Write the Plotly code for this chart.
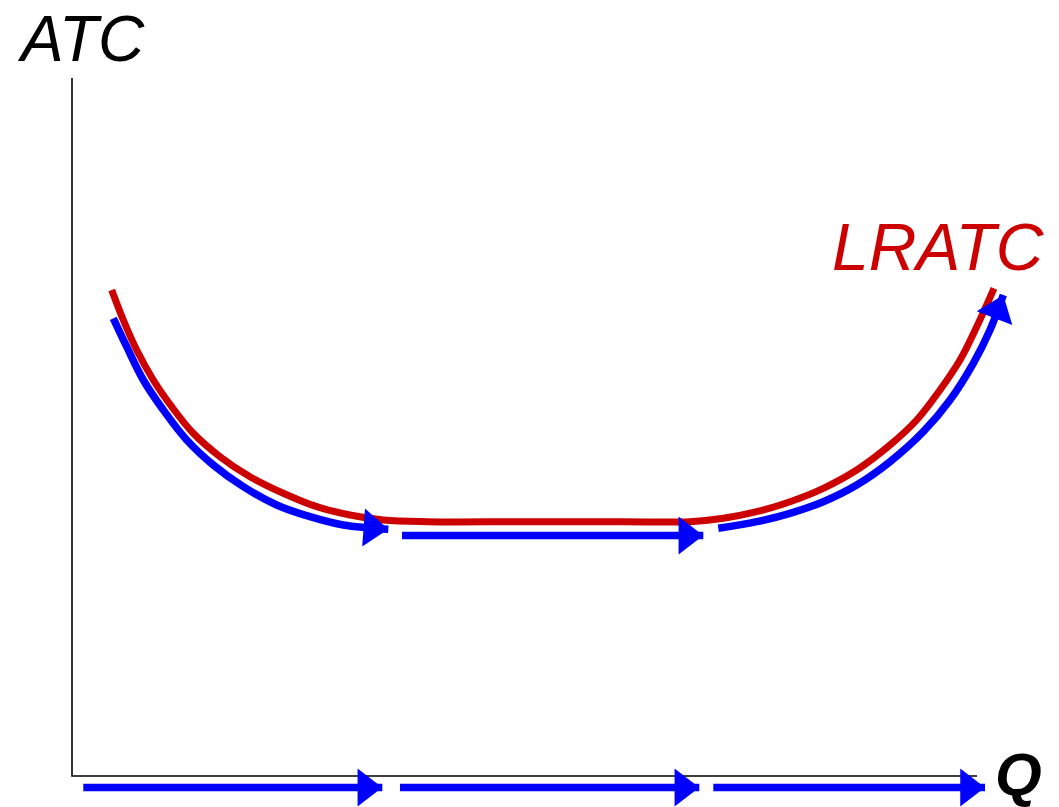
import plotly.graph_objects as go

# units: Q and ATC measured from the axis corner (1 unit = 10 px)
axis_q = [0, 0, 90.5]
axis_atc = [69.8, 0, 0]

# long-run average total cost curve
lratc_q = [3.97, 5.13, 6.47, 8.13, 9.97, 12.13, 14.8, 17.8, 21.13, 24.47, 27.8, 31.13,
           35.47, 45.0, 55.0, 61.8, 65.13, 68.47, 71.8, 75.13, 78.47, 81.8, 84.47,
           86.8, 88.8, 90.47, 92.2]
lratc_atc = [48.6, 45.6, 42.6, 39.6, 36.93, 34.27, 31.93, 29.93, 28.27, 26.93, 26.1, 25.6,
             25.43, 25.43, 25.43, 25.43, 25.77, 26.43, 27.43, 28.77, 30.6, 33.1, 35.6,
             38.6, 41.6, 44.93, 48.77]

# blue arrows following the curve (economies, constant returns, diseconomies)
econ_q = [4.13, 5.47, 7.13, 9.13, 11.47, 14.13, 17.13, 20.47, 23.8, 27.13, 29.47, 31.63]
econ_atc = [45.77, 42.93, 39.6, 36.6, 33.6, 31.1, 28.93, 27.1, 25.93, 25.1, 24.83, 24.67]
const_q = [33.0, 63.13]
const_atc = [24.05, 24.05]
disecon_q = [64.63, 68.47, 71.8, 75.13, 78.47, 81.8, 85.13, 87.8, 90.13, 91.8, 93.13]
disecon_atc = [24.77, 25.43, 26.27, 27.43, 29.1, 31.43, 34.43, 37.6, 41.27, 44.6, 48.1]

# arrows along the quantity axis
q_arrows = [(1.13, 31.03), (32.8, 62.73), (64.13, 91.3)]
q_arrow_atc = -1.15

RED = "#cc0000"
BLUE = "#0000ff"


def arrow_trace(xs, ys):
    n = len(xs)
    return go.Scatter(
        x=xs, y=ys, mode="lines+markers",
        line=dict(color=BLUE, width=7.5, shape="spline", backoff=12),
        marker=dict(symbol="triangle-up", angleref="previous", standoff=16.5,
                    size=[0] * (n - 1) + [33], color=BLUE, opacity=1,
                    line=dict(width=0)),
        hoverinfo="skip", showlegend=False,
    )


fig = go.Figure()
fig.add_trace(go.Scatter(x=axis_q, y=axis_atc, mode="lines",
                         line=dict(color="black", width=1.6),
                         hoverinfo="skip", showlegend=False))
fig.add_trace(go.Scatter(x=lratc_q, y=lratc_atc, mode="lines",
                         line=dict(color=RED, width=7, shape="spline"),
                         hoverinfo="skip", showlegend=False))
fig.add_trace(arrow_trace(econ_q, econ_atc))
fig.add_trace(arrow_trace(const_q, const_atc))
fig.add_trace(arrow_trace(disecon_q, disecon_atc))
for start, end in q_arrows:
    fig.add_trace(arrow_trace([start, end], [q_arrow_atc, q_arrow_atc]))

font = "Liberation Sans, Arial, sans-serif"
fig.update_layout(
    width=1059, height=807,
    margin=dict(l=0, r=0, t=0, b=0),
    paper_bgcolor="white", plot_bgcolor="white",
    xaxis=dict(range=[-7.2, 98.7], visible=False),
    yaxis=dict(range=[-3.1, 77.6], visible=False),
    annotations=[
        dict(x=0.9, y=73.7, text="<i>ATC</i>", showarrow=False, borderpad=0,
             font=dict(family=font, size=64, color="black")),
        dict(x=86.6, y=52.9, text="<i>LRATC</i>", showarrow=False,
             font=dict(family=font, size=66, color=RED)),
        dict(x=94.6, y=0.2, text="<b><i>Q</i></b>", showarrow=False,
             font=dict(family=font, size=60, color="black")),
    ],
)

# drop the default page margin so the figure fills the window
fig.write_html("out.html", config={"displayModeBar": False},
               post_script="document.body.style.margin = '0';")
